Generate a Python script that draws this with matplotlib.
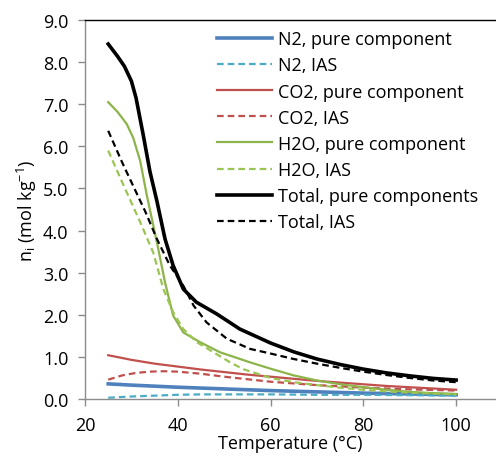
import numpy as np
import matplotlib
matplotlib.use("Agg")
import matplotlib.pyplot as plt

plt.rcParams['font.family'] = ['Open Sans', 'DejaVu Sans']
plt.rcParams['mathtext.fontset'] = 'custom'
plt.rcParams['mathtext.rm'] = 'Open Sans'

# temperatures (°C) and uptake (mol/kg)
t_tot = [25, 27, 28.5, 30, 31, 32.5, 34, 35.5, 37.25, 39, 41.2, 44, 48.4, 53.4,
         60, 65, 70, 75, 80, 85, 90, 95, 100]
total_pure = [8.43, 8.14, 7.9, 7.55, 7.15, 6.3, 5.4, 4.7, 3.8, 3.17, 2.61, 2.3, 2.02, 1.66,
              1.33, 1.12, 0.95, 0.82, 0.71, 0.62, 0.55, 0.49, 0.45]

t_tot_ias = [25, 28, 30, 33, 35.5, 38.3, 41.2, 43.4, 46.2, 50.6, 55.6, 60, 65, 70, 75, 80, 85, 90, 95, 100]
total_ias = [6.37, 5.62, 5.15, 4.45, 3.8, 3.17, 2.69, 2.22, 1.82, 1.43, 1.19, 1.08,
             0.95, 0.84, 0.74, 0.65, 0.57, 0.5, 0.44, 0.4]

t_h2o = [25, 27, 29, 30.4, 31.9, 33.3, 35.5, 37.25, 39, 41.2, 44.8, 49.1, 55.6, 60,
         65, 70, 75, 80, 85, 90, 95, 100]
h2o_pure = [7.05, 6.82, 6.53, 6.2, 5.65, 4.85, 3.72, 2.77, 1.98, 1.58, 1.35, 1.11, 0.87, 0.72,
            0.56, 0.44, 0.35, 0.28, 0.22, 0.17, 0.14, 0.12]

t_h2o_ias = [25, 28, 31.9, 34.7, 36.9, 39, 41.2, 44.1, 47.7, 51.3, 54.1, 60, 65, 70, 75, 80, 85, 90, 95, 100]
h2o_ias = [5.9, 5.15, 4.2, 3.48, 2.61, 2.06, 1.66, 1.35, 1.11, 0.87, 0.71, 0.5,
           0.4, 0.33, 0.27, 0.22, 0.18, 0.15, 0.13, 0.11]

t_co2 = [25, 30, 35, 40, 45, 50, 55, 60, 65, 70, 75, 80, 85, 90, 95, 100]
co2_pure = [1.04, 0.93, 0.84, 0.77, 0.7, 0.64, 0.58, 0.53, 0.48, 0.43, 0.39, 0.35, 0.31, 0.28, 0.25, 0.22]

t_co2_ias = [25, 28, 31, 34, 37, 40, 45, 50, 55, 60, 70, 80, 90, 100]
co2_ias = [0.46, 0.56, 0.62, 0.65, 0.66, 0.65, 0.6, 0.53, 0.47, 0.41, 0.33, 0.27, 0.23, 0.2]

t_n2 = [25, 30, 40, 50, 60, 70, 80, 90, 100]
n2_pure = [0.36, 0.33, 0.28, 0.24, 0.2, 0.17, 0.14, 0.12, 0.1]

t_n2_ias = [25, 30, 35, 40, 45, 50, 60, 70, 80, 90, 100]
n2_ias = [0.03, 0.06, 0.08, 0.1, 0.11, 0.11, 0.11, 0.1, 0.1, 0.09, 0.08]

fig = plt.figure(figsize=(4.96, 4.60), dpi=100)
ax = fig.add_axes([0.1714, 0.1304, 0.8286, 0.8239])

dash = (0, (3, 1.8))
ax.plot(t_n2, n2_pure, color='#4F81BD', lw=2.6, label='N2, pure component')
ax.plot(t_n2_ias, n2_ias, color='#4BACC6', lw=1.6, ls=dash, label='N2, IAS')
ax.plot(t_co2, co2_pure, color='#C0504D', lw=1.6, label='CO2, pure component')
ax.plot(t_co2_ias, co2_ias, color='#C0504D', lw=1.6, ls=dash, label='CO2, IAS')
ax.plot(t_h2o, h2o_pure, color='#8DB44A', lw=1.6, label='H2O, pure component')
ax.plot(t_h2o_ias, h2o_ias, color='#9BC552', lw=1.6, ls=dash, label='H2O, IAS')
ax.plot(t_tot, total_pure, color='black', lw=2.6, label='Total, pure components')
ax.plot(t_tot_ias, total_ias, color='black', lw=1.6, ls=dash, label='Total, IAS')

ax.set_xlim(20, 108.6)
ax.set_ylim(0, 9)
ax.set_xticks([20, 40, 60, 80, 100])
yt = np.arange(0, 9.01, 1.0)
ax.set_yticks(yt)
ax.set_yticklabels(['%.1f' % v for v in yt])

for s in ['left', 'bottom']:
    ax.spines[s].set_color('#8C8C8C')
    ax.spines[s].set_linewidth(1.0)
ax.spines['right'].set_visible(False)
ax.spines['top'].set_color('black')
ax.spines['top'].set_linewidth(1.0)
ax.tick_params(axis='both', direction='out', length=5, width=1.0, color='#8C8C8C',
               labelsize=13, pad=7)

ax.set_xlabel('Temperature (°C)', fontsize=13, labelpad=0)
ax.set_ylabel(r'n$_\mathregular{i}$ (mol kg$^\mathregular{-1}$)', fontsize=13, labelpad=3)

ax.legend(loc='upper right', bbox_to_anchor=(0.973, 0.992), frameon=False, fontsize=13,
          handlelength=3.05, handletextpad=0.33, labelspacing=0.45, borderaxespad=0.0)

fig.savefig('out.png', dpi=100)
